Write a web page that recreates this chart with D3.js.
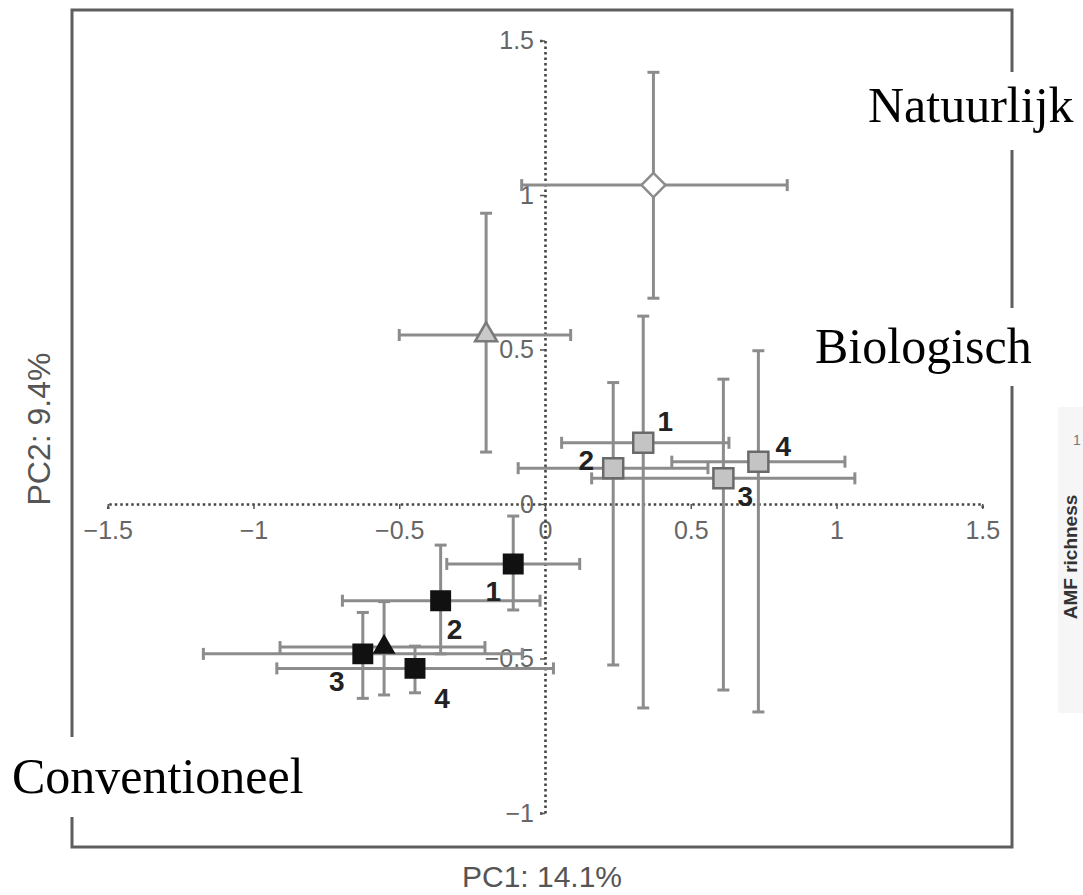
<!DOCTYPE html>
<html>
<head>
<meta charset="utf-8">
<script src="https://cdn.jsdelivr.net/npm/d3@7"></script>
<style>
  body { margin: 0; background: #fff; }
</style>
</head>
<body>
<script>
// PCA-gemiddelden per bedrijf (PC1 / PC2) met foutbalken
const pointIds = ["N", "Bgem", "B1", "B2", "B3", "B4", "Cgem", "C1", "C2", "C3", "C4"];
const pointGroup = ["natuurlijk", "biologisch", "biologisch", "biologisch", "biologisch", "biologisch",
  "conventioneel", "conventioneel", "conventioneel", "conventioneel", "conventioneel"];
const pointKind = ["gemiddelde", "gemiddelde", "bedrijf", "bedrijf", "bedrijf", "bedrijf",
  "gemiddelde", "bedrijf", "bedrijf", "bedrijf", "bedrijf"];
const pointLabels = ["", "", "1", "2", "3", "4", "", "1", "2", "3", "4"];

const pc1 = [0.372, -0.202, 0.337, 0.234, 0.612, 0.732, -0.552, -0.109, -0.358, -0.625, -0.446];
const pc1Lo = [-0.080, -0.500, 0.057, -0.092, 0.160, 0.435, -0.909, -0.337, -0.695, -1.172, -0.920];
const pc1Hi = [0.831, 0.088, 0.631, 0.559, 1.063, 1.029, -0.206, 0.119, -0.017, -0.078, 0.029];
const pc2 = [1.032, 0.547, 0.198, 0.116, 0.083, 0.137, -0.463, -0.194, -0.313, -0.485, -0.532];
const pc2Lo = [0.666, 0.168, -0.660, -0.521, -0.602, -0.673, -0.618, -0.343, -0.485, -0.629, -0.611];
const pc2Hi = [1.397, 0.941, 0.608, 0.393, 0.404, 0.496, -0.316, -0.039, -0.133, -0.351, -0.460];

const ticksPC1 = [-1.5, -1, -0.5, 0, 0.5, 1, 1.5];
const ticksPC2 = [-1, -0.5, 0, 0.5, 1, 1.5];

const titleX = "PC1: 14.1%";
const titleY = "PC2: 9.4%";
const groupLabels = ["Natuurlijk", "Biologisch", "Conventioneel"];

const width = 1083, height = 895;

const svg = d3.select("body").append("svg")
  .attr("width", width)
  .attr("height", height)
  .style("display", "block");

svg.append("rect").attr("width", width).attr("height", height).attr("fill", "#fff");

// stukje van het volgende paneel rechts
svg.append("rect")
  .attr("x", 1058).attr("y", 407).attr("width", 30).attr("height", 306)
  .attr("fill", "#f6f6f6");
svg.append("text")
  .attr("x", 1073).attr("y", 445)
  .attr("font-family", "Liberation Sans, Arial, sans-serif")
  .attr("font-size", 14).attr("fill", "#777")
  .text("1");
svg.append("text")
  .attr("transform", "translate(1077,557) rotate(-90)")
  .attr("text-anchor", "middle")
  .attr("font-family", "Liberation Sans, Arial, sans-serif")
  .attr("font-size", 19).attr("font-weight", "bold").attr("fill", "#333")
  .text("AMF richness");

// kader
svg.append("rect")
  .attr("x", 72).attr("y", 10).attr("width", 940).attr("height", 837)
  .attr("fill", "none").attr("stroke", "#5e5e5e").attr("stroke-width", 3);

const x = d3.scaleLinear().domain([-1.5, 1.5]).range([107.75, 982.25]);
const y = d3.scaleLinear().domain([-1, 1.5]).range([813, 40.5]);

const fmt = d3.format("~g");

const xAxis = svg.append("g")
  .attr("transform", `translate(0,${y(0)})`)
  .call(d3.axisBottom(x).tickValues(ticksPC1).tickFormat(fmt)
    .tickSizeOuter(0).tickSize(5).tickPadding(12));

const yAxis = svg.append("g")
  .attr("transform", `translate(${x(0)},0)`)
  .call(d3.axisLeft(y).tickValues(ticksPC2).tickFormat(fmt)
    .tickSizeOuter(0).tickSize(5).tickPadding(6));

[xAxis, yAxis].forEach(ax => {
  ax.select(".domain")
    .attr("stroke", "#444").attr("stroke-width", 2.6)
    .attr("stroke-dasharray", "2.5,3");
  ax.selectAll(".tick line").attr("stroke", "#555").attr("stroke-width", 1.5);
  ax.selectAll(".tick text")
    .attr("fill", "#666")
    .attr("font-family", "Liberation Sans, Arial, sans-serif")
    .attr("font-size", 25);
});

// foutbalken
const idx = d3.range(pointIds.length);
const cap = 6;
const bars = svg.append("g")
  .attr("stroke", "#8c8c8c").attr("stroke-width", 3).attr("fill", "none");

idx.forEach(i => {
  const cx = x(pc1[i]), cy = y(pc2[i]);
  bars.append("line").attr("x1", x(pc1Lo[i])).attr("x2", x(pc1Hi[i])).attr("y1", cy).attr("y2", cy);
  bars.append("line").attr("x1", x(pc1Lo[i])).attr("x2", x(pc1Lo[i])).attr("y1", cy - cap).attr("y2", cy + cap);
  bars.append("line").attr("x1", x(pc1Hi[i])).attr("x2", x(pc1Hi[i])).attr("y1", cy - cap).attr("y2", cy + cap);
  bars.append("line").attr("x1", cx).attr("x2", cx).attr("y1", y(pc2Lo[i])).attr("y2", y(pc2Hi[i]));
  bars.append("line").attr("x1", cx - cap).attr("x2", cx + cap).attr("y1", y(pc2Lo[i])).attr("y2", y(pc2Lo[i]));
  bars.append("line").attr("x1", cx - cap).attr("x2", cx + cap).attr("y1", y(pc2Hi[i])).attr("y2", y(pc2Hi[i]));
});

// symbolen
const markerStyle = {
  "natuurlijk|gemiddelde": { type: d3.symbolSquare, size: 290, rotate: 45, fill: "#fff", stroke: "#8c8c8c" },
  "biologisch|gemiddelde": { type: d3.symbolTriangle, size: 210, rotate: 0, fill: "#c9c9c9", stroke: "#7a7a7a" },
  "biologisch|bedrijf": { type: d3.symbolSquare, size: 400, rotate: 0, fill: "#c4c4c4", stroke: "#6a6a6a" },
  "conventioneel|gemiddelde": { type: d3.symbolTriangle, size: 150, rotate: 0, fill: "#111", stroke: "#111" },
  "conventioneel|bedrijf": { type: d3.symbolSquare, size: 340, rotate: 0, fill: "#111", stroke: "#111" }
};

idx.forEach(i => {
  const s = markerStyle[pointGroup[i] + "|" + pointKind[i]];
  svg.append("path")
    .attr("d", d3.symbol().type(s.type).size(s.size)())
    .attr("transform", `translate(${x(pc1[i])},${y(pc2[i])}) rotate(${s.rotate})`)
    .attr("fill", s.fill)
    .attr("stroke", s.stroke)
    .attr("stroke-width", 2.5);
});

// nummers bij de bedrijven
const labelOffset = {
  B1: [22, -21], B2: [-27, -8], B3: [22, 18], B4: [25, -15],
  C1: [-20, 28], C2: [14, 29], C3: [-26, 28], C4: [27, 30]
};
idx.filter(i => pointLabels[i] !== "").forEach(i => {
  const o = labelOffset[pointIds[i]];
  svg.append("text")
    .attr("x", x(pc1[i]) + o[0])
    .attr("y", y(pc2[i]) + o[1])
    .attr("text-anchor", "middle")
    .attr("dominant-baseline", "central")
    .attr("font-family", "Liberation Sans, Arial, sans-serif")
    .attr("font-size", 28).attr("font-weight", "bold")
    .attr("fill", "#222")
    .text(pointLabels[i]);
});

// astitels
svg.append("text")
  .attr("x", 542).attr("y", 887)
  .attr("text-anchor", "middle")
  .attr("font-family", "Liberation Sans, Arial, sans-serif")
  .attr("font-size", 30).attr("fill", "#555")
  .text(titleX);

svg.append("text")
  .attr("transform", "translate(50,429) rotate(-90)")
  .attr("text-anchor", "middle")
  .attr("font-family", "Liberation Sans, Arial, sans-serif")
  .attr("font-size", 32).attr("fill", "#555")
  .text(titleY);

// witte labelvakken met de systeemnamen
const boxes = [
  { x: 850, y: 72, w: 233, h: 78, tx: 868, ty: 122 },
  { x: 800, y: 308, w: 245, h: 78, tx: 815, ty: 363 },
  { x: 0, y: 737, w: 325, h: 80, tx: 12, ty: 793 }
];
boxes.forEach((b, i) => {
  svg.append("rect")
    .attr("x", b.x).attr("y", b.y).attr("width", b.w).attr("height", b.h)
    .attr("fill", "#fff");
  svg.append("text")
    .attr("x", b.tx).attr("y", b.ty)
    .attr("font-family", "Liberation Serif, Times New Roman, serif")
    .attr("font-size", 50).attr("fill", "#000")
    .text(groupLabels[i]);
});
</script>
</body>
</html>
